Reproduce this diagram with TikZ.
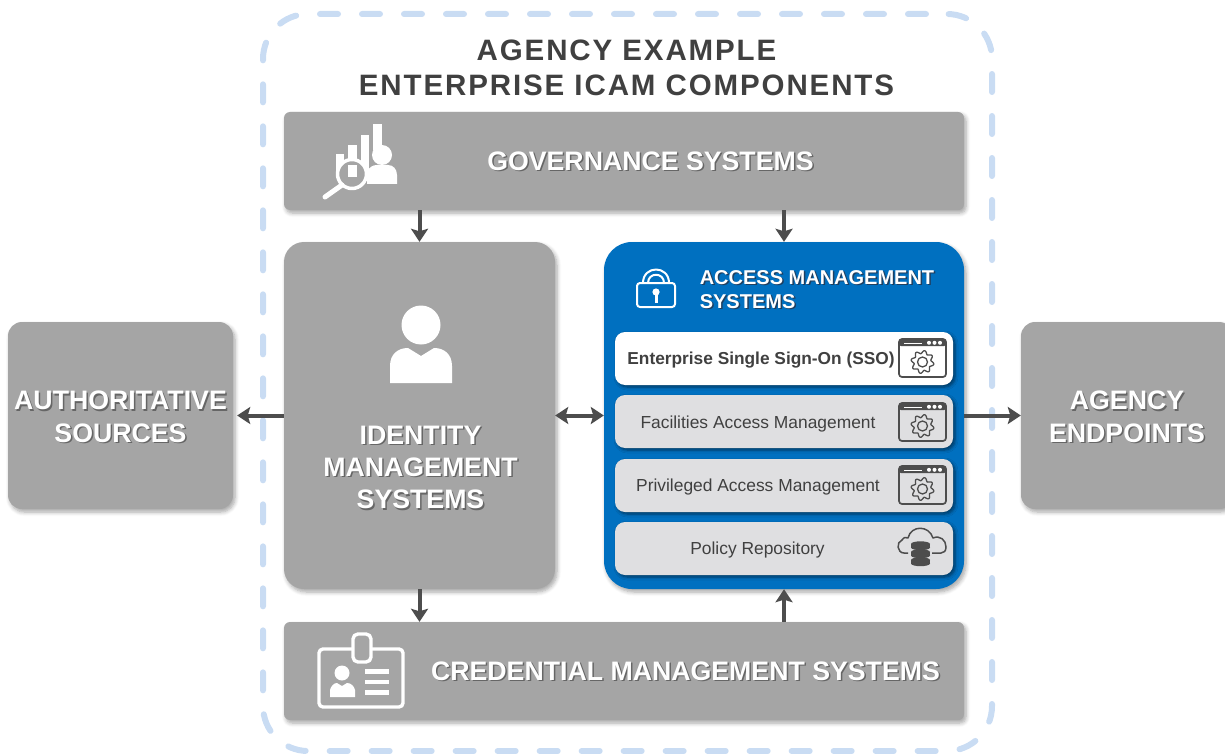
\documentclass[tikz,border=0pt]{standalone}
\usepackage{fontspec}
\setmainfont{Liberation Sans}
\usetikzlibrary{arrows.meta,shadows.blur}
\definecolor{boxgray}{HTML}{A5A5A5}
\definecolor{amblue}{HTML}{0070C0}
\definecolor{itemgray}{HTML}{DFDFE1}
\definecolor{inkdark}{HTML}{404040}
\definecolor{arrowdark}{HTML}{4D4D4D}
\definecolor{dashblue}{HTML}{C9DCF3}
\newcommand\fsz[1]{\fontsize{#1}{#1}\selectfont}
\newcommand\shd[2][666666]{\leavevmode\rlap{\kern1.5pt\raisebox{-1.5pt}{\color[HTML]{#1}#2}}#2}
\tikzset{
  x=1pt,y=-1pt,
  softshadow/.style={blur shadow={shadow xshift=2pt,shadow yshift=-3pt,shadow blur steps=6,shadow blur radius=4pt,shadow opacity=35}},
  graybox/.style={fill=boxgray,draw=none,rounded corners=#1,softshadow,inner sep=0pt},
  itembox/.style={draw=none,rounded corners=10pt,minimum width=338pt,minimum height=53pt,inner sep=0pt,blur shadow={shadow xshift=2pt,shadow yshift=-2pt,shadow blur steps=5,shadow blur radius=3pt,shadow opacity=50}},
  flow/.style={draw=arrowdark,line width=4pt,-{Stealth[length=13pt,width=17pt,inset=2.5pt]}},
  flowboth/.style={draw=arrowdark,line width=4pt,{Stealth[length=13pt,width=17pt,inset=2.5pt]}-{Stealth[length=13pt,width=17pt,inset=2.5pt]}},
  headtext/.style={text=white,font=\bfseries\fsz{26.7},align=center,inner sep=0pt},
  titletext/.style={text=inkdark,font=\bfseries\fsz{29.5},align=center,inner sep=0pt},
  itemtext/.style={text=inkdark,font=\fsz{17.4},inner sep=0pt},
  pics/windowgear/.style={code={
    \draw[arrowdark,line width=1.7pt,rounded corners=3pt,fill=#1] (0,0) rectangle (47,38);
    \fill[arrowdark,rounded corners=2pt] (0,0) rectangle (47,7);
    \fill[white] (5,4) rectangle (23,5.2);
    \foreach \dx in {30,35.5,41} \fill[white] (\dx,3.8) circle (2pt);
    \draw[arrowdark,line width=1.3pt,smooth,samples=97,domain=0:360] plot ({23.5+(10+1.5*sin(8*\x))*cos(\x)},{23+(10+1.5*sin(8*\x))*sin(\x)});
    \draw[arrowdark,line width=1.3pt] (23.5,23) circle (5pt);
  }}
}
\begin{document}
\begin{tikzpicture}[line join=round]
\useasboundingbox (0,0) rectangle (1225,754);
% outer dashed frame
\node[draw=dashblue,line width=6pt,line cap=round,dash pattern=on 18pt off 24pt,dash phase=21pt,rounded corners=45pt,minimum width=729pt,minimum height=737pt,inner sep=0pt] (frame) at (627.5,382.5) {};
\node[titletext] (title) at (626.5,67.5) {\addfontfeature{LetterSpace=6.4}AGENCY EXAMPLE\\[5.5pt]\addfontfeature{LetterSpace=6.4}ENTERPRISE ICAM COMPONENTS};
% main boxes
\node[graybox=6pt,minimum width=680pt,minimum height=98pt] (gov) at (624,161) {};
\node[graybox=20pt,minimum width=271pt,minimum height=347pt] (idm) at (419.5,415.5) {};
\node[graybox=6pt,minimum width=680pt,minimum height=98pt] (cred) at (624,671) {};
\node[graybox=14pt,minimum width=225pt,minimum height=187pt,text=white,font=\bfseries\fsz{26.7},align=center] (auth) at (120.5,415.5) {};
\node[headtext] (authtext) at (120.5,417.5) {\shd{AUTHORITATIVE}\\[6pt]\shd{SOURCES}};
\node[graybox=14pt,minimum width=212pt,minimum height=187pt] (endp) at (1127,415.5) {};
\node[headtext] (endptext) at (1127,417.5) {\shd{AGENCY}\\[6pt]\shd{ENDPOINTS}};
\node[fill=amblue,draw=none,rounded corners=28pt,minimum width=360pt,minimum height=347pt,inner sep=0pt,softshadow] (am) at (784,415.5) {};
% box texts
\node[headtext] (govtext) at (650.5,162) {\shd{GOVERNANCE SYSTEMS}};
\node[headtext] (credtext) at (685.5,672) {\shd{CREDENTIAL MANAGEMENT SYSTEMS}};
\node[headtext] (idmtext) at (420.5,468) {\shd{IDENTITY}\\[5.5pt]\shd{MANAGEMENT}\\[5.5pt]\shd{SYSTEMS}};
\node[text=white,font=\bfseries\fsz{20},align=left,inner sep=0pt] (amtext) at (817,290) {\shd[1F3F60]{ACCESS MANAGEMENT}\\[4pt]\shd[1F3F60]{SYSTEMS}};
% inner items
\node[itembox,fill=white] (sso) at (784,358.5) {};
\node[itembox,fill=itemgray] (fac) at (784,421.5) {};
\node[itembox,fill=itemgray] (pam) at (784,485.5) {};
\node[itembox,fill=itemgray] (pol) at (784,548.5) {};
\node[itemtext,font=\bfseries\fsz{17.3},text=inkdark] (ssotext) at (761,360) {Enterprise Single Sign-On (SSO)};
\node[itemtext] (factext) at (758,423.5) {Facilities Access Management};
\node[itemtext] (pamtext) at (758,486.5) {Privileged Access Management};
\node[itemtext] (poltext) at (757.5,549.5) {Policy Repository};
\pic at (899,339) {windowgear=white};
\pic at (899,403) {windowgear=itemgray};
\pic at (899,466) {windowgear=itemgray};
% connectors
\draw[flow] (gov.south -| idm.north) -- (idm.north);
\draw[flow] (gov.south -| am.north) -- (am.north);
\draw[flow,shorten >=4pt] (idm.west) -- (auth.east);
\draw[flowboth] (idm.east) -- (am.west);
\draw[flow] (am.east) -- (endp.west);
\draw[flow] (idm.south) -- (cred.north -| idm.south);
\draw[flow] (cred.north -| am.south) -- (am.south);
% person icon
\fill[white] (421,325) circle (19.5pt);
\fill[white] (390,383) -- (390,366) .. controls (390,354) and (398,348) .. (408,348) -- (421,356) -- (434,348) .. controls (444,348) and (452,354) .. (452,366) -- (452,383) -- cycle;
% governance icon
\fill[white] (336,154) rectangle (344,172);
\fill[white] (348,145) rectangle (357,170);
\fill[white] (361,135) rectangle (369,170);
\fill[white] (373,124) rectangle (382,150);
\fill[white] (382,155) circle (10pt);
\fill[white] (367,184) -- (367,172) .. controls (369,167) and (373,165) .. (377,165) -- (388,165) .. controls (393,165) and (397,169) .. (397,175) -- (397,184) -- cycle;
\draw[white,line width=3.5pt,fill=boxgray] (352,174) circle (14.5pt);
\fill[white] (348,165) rectangle (357,177);
\draw[white,line width=5pt,line cap=round] (342,185) -- (325,197);
% credential icon
\draw[white,line width=3.4pt,rounded corners=4pt] (319,649) rectangle (403,707);
\draw[white,line width=3.4pt,fill=boxgray,rounded corners=5pt] (353,634) rectangle (371,662);
\fill[white] (342,673) circle (7.5pt);
\fill[white] (330,697) -- (330,690) .. controls (331,686) and (334,683) .. (337,683) -- (342,686) -- (347,683) .. controls (351,683) and (354,686) .. (355,690) -- (355,697) -- cycle;
\fill[white] (365,669) rectangle (389,673.5);
\fill[white] (365,679.5) rectangle (389,684);
\fill[white] (365,690) rectangle (389,695);
% lock icon
\draw[white,line width=2pt,rounded corners=3pt] (637,283) rectangle (675,307);
\draw[white,line width=2pt] (643,283) .. controls (643,265) and (669,265) .. (669,283);
\draw[white,line width=2pt] (648,283) .. controls (648,272) and (664,272) .. (664,283);
\fill[white] (656,292) circle (3.6pt);
\fill[white] (654.5,292) rectangle (657.5,303);
% policy repository icon
\draw[arrowdark,line width=1.5pt] (908,553) -- (904,553) .. controls (897,553) and (896,542) .. (902,540) .. controls (904,537) and (906,537) .. (908,538) .. controls (911,525) and (929,525) .. (933,538) .. controls (940,535) and (946,540) .. (946,547) .. controls (946,551) and (944,553) .. (941,553) -- (932,553);
\foreach \yy in {544,552,560} {
  \fill[arrowdark] (911,\yy) rectangle (930,\yy+3.5);
  \fill[arrowdark] (920.5,\yy) ellipse (9.5pt and 2.7pt);
  \fill[arrowdark] (920.5,\yy+3.5) ellipse (9.5pt and 2.7pt);
}
\end{tikzpicture}
\end{document}
